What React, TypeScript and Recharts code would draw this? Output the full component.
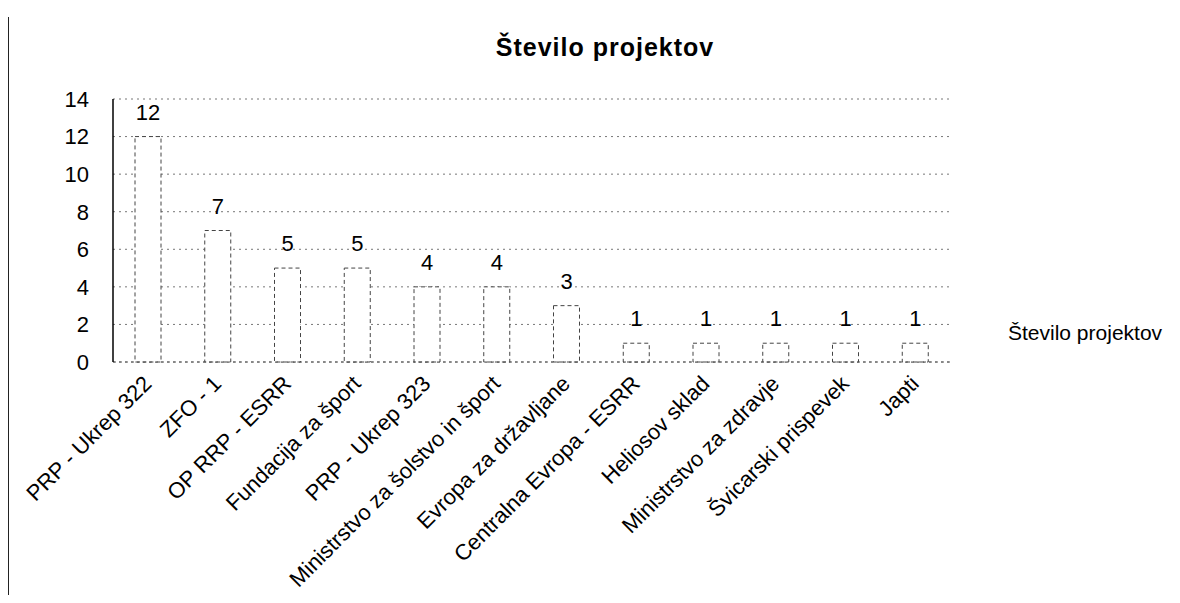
import React from "react";
import { BarChart, Bar, XAxis, YAxis, CartesianGrid, LabelList } from "recharts";

const categories = [
  "PRP - Ukrep 322",
  "ZFO - 1",
  "OP RRP - ESRR",
  "Fundacija za šport",
  "PRP - Ukrep 323",
  "Ministrstvo za šolstvo in šport",
  "Evropa za državljane",
  "Centralna Evropa - ESRR",
  "Heliosov sklad",
  "Ministrstvo za zdravje",
  "Švicarski prispevek",
  "Japti",
];
const projectCounts = [12, 7, 5, 5, 4, 4, 3, 1, 1, 1, 1, 1];
const yTicks = [0, 2, 4, 6, 8, 10, 12, 14];
const seriesName = "Število projektov";
const chartTitle = "Število projektov";

const data = categories.map((c, i) => ({ name: c, value: projectCounts[i] }));

const FONT = "'Liberation Sans', Arial, sans-serif";

const XTick = (props: any) => {
  const { x, y, payload } = props;
  return (
    <g transform={`translate(${x + 5},${y + 21}) rotate(-45)`}>
      <text x={0} y={0} textAnchor="end" fontSize={22} fontFamily={FONT} fill="#000">
        {payload.value}
      </text>
    </g>
  );
};

export default function App() {
  return (
    <div style={{ position: "relative", width: 1164, height: 587 }}>
      <div
        style={{
          position: "absolute",
          left: 0,
          top: 9,
          height: 578,
          borderLeft: "1.5px solid #222",
        }}
      />
      <div
        style={{
          position: "absolute",
          left: 597,
          top: 25,
          transform: "translateX(-50%)",
          fontFamily: FONT,
          fontWeight: "bold",
          fontSize: 25,
          letterSpacing: 1,
          whiteSpace: "nowrap",
          color: "#000",
        }}
      >
        {chartTitle}
      </div>
      <div
        style={{
          position: "absolute",
          left: 1000,
          top: 313,
          fontFamily: FONT,
          fontSize: 21,
          whiteSpace: "nowrap",
          color: "#000",
        }}
      >
        {seriesName}
      </div>
      <BarChart
        width={1164}
        height={587}
        data={data}
        margin={{ top: 91, right: 222, left: 0, bottom: 0 }}
      >
        <CartesianGrid vertical={false} stroke="#777" strokeDasharray="2 4" />
        <XAxis
          dataKey="name"
          interval={0}
          height={233}
          tickLine={false}
          tickSize={0}
          axisLine={{ stroke: "#555", strokeDasharray: "3 3" }}
          tick={<XTick />}
        />
        <YAxis
          width={105}
          domain={[0, 14]}
          ticks={yTicks}
          interval={0}
          tickLine={false}
          tickSize={0}
          tickMargin={24}
          axisLine={{ stroke: "#000", strokeWidth: 1.5 }}
          tick={{ fontSize: 22, fontFamily: FONT, fill: "#000" }}
        />
        <Bar
          dataKey="value"
          name={seriesName}
          fill="#fff"
          stroke="#444"
          strokeDasharray="4 3"
          barSize={26}
          isAnimationActive={false}
        >
          <LabelList
            dataKey="value"
            position="top"
            offset={17}
            fontSize={22}
            fontFamily={FONT}
            fill="#000"
          />
        </Bar>
      </BarChart>
    </div>
  );
}
